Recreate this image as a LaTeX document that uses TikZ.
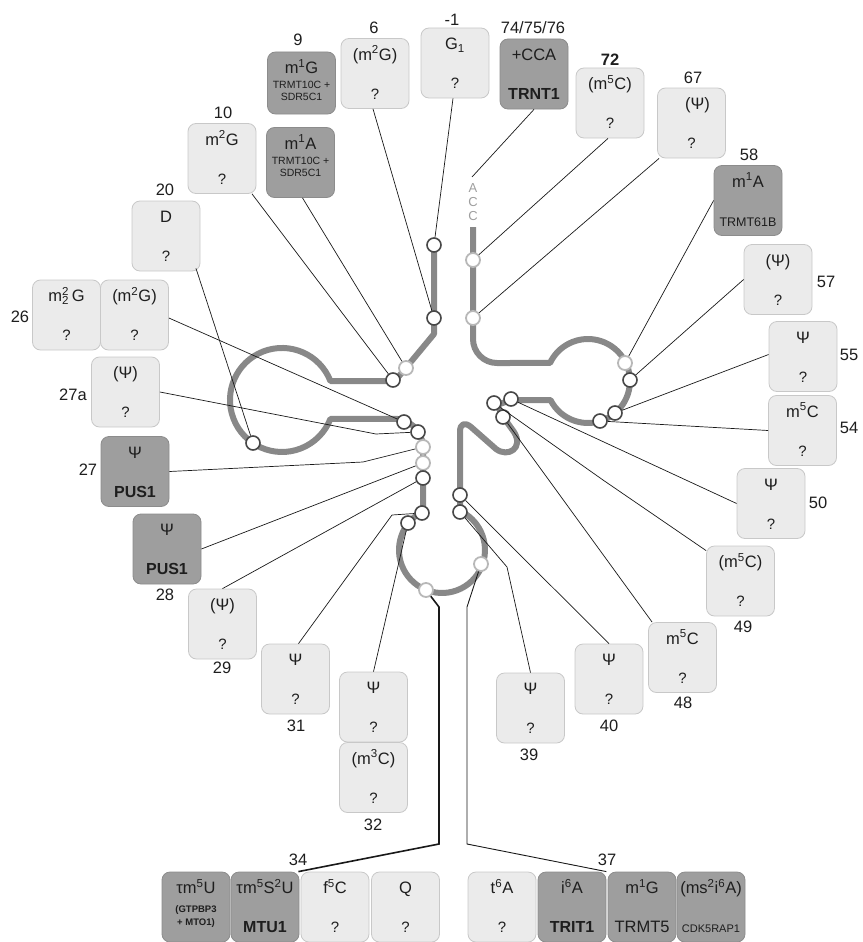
\documentclass[tikz,border=0pt]{standalone}
\usepackage{fontspec}
\setmainfont{Liberation Sans}
\definecolor{fillight}{HTML}{EBEBEB}
\definecolor{edgelight}{HTML}{C8C8C8}
\definecolor{filldark}{HTML}{9E9E9E}
\definecolor{edgedark}{HTML}{8C8C8C}
\definecolor{strandgray}{HTML}{888888}
\definecolor{inkgray}{HTML}{1E1E1E}

% one modification box: name, centre, box style, upper text, lower text style, lower text
\newcommand{\trnabox}[6]{%
  \node[#3] (#1) at (#2) {};
  \node[modname, anchor=base] (#1-top) at ([yshift=-22pt]#1.north) {#4};
  \node[#5, anchor=base] (#1-bot) at ([yshift=-61pt]#1.north) {#6};
}

\begin{document}
\begin{tikzpicture}[x=1pt,y=-1pt,
  every node/.style={inner sep=0pt, text=inkgray},
  lightbox/.style={draw=edgelight, fill=fillight, line width=0.8pt, rounded corners=8pt,
                   minimum width=68pt, minimum height=70pt},
  darkbox/.style={lightbox, draw=edgedark, fill=filldark},
  modname/.style={font=\fontsize{16.5}{18}\selectfont},
  qmark/.style={font=\fontsize{15}{17}\selectfont},
  enzbold/.style={font=\bfseries\fontsize{16}{18}\selectfont},
  enzplain/.style={font=\fontsize{16.5}{18}\selectfont},
  enzmid/.style={font=\fontsize{12.5}{14}\selectfont},
  enzsmall/.style={font=\fontsize{11}{12}\selectfont},
  enztwo/.style={font=\fontsize{10.5}{12}\selectfont, align=center, yshift=12pt},
  enzgtp/.style={font=\bfseries\fontsize{9.5}{13}\selectfont, align=center, yshift=7pt},
  numlab/.style={font=\fontsize{16.5}{18}\selectfont},
  strand/.style={draw=strandgray, line width=6pt, line join=round},
  link/.style={draw=black!90, line width=0.7pt},
  site/.style={circle, draw=black!72, fill=white, line width=1.6pt, minimum size=14pt},
  sitelight/.style={site, draw=black!28, line width=1.8pt},
  cca/.style={font=\fontsize{13}{13}\selectfont, text=black!38}]
\useasboundingbox (0,0) rectangle (862,942);

% ---------- the tRNA backbone ----------
\draw[strand] (434,240) -- (434,334) -- (395,381) -- (330.4,381)
  arc[start angle=-21.4, end angle=-338.6, radius=52]
  -- (404,419) -- (416,428) -- (423,442) -- (423,511.4)
  arc[start angle=243.8, end angle=-65.2, radius=43]
  -- (460,432) .. controls (460,423) and (465,422) .. (471,427)
  -- (496,449) .. controls (508,458) and (524,448) .. (514,432)
  -- (504,418) -- (497,405) -- (511,400) -- (550.5,400)
  arc[start angle=153.1, end angle=-154.6, radius=42]
  -- (497,363) arc[start angle=90, end angle=180, radius=24]
  -- (473,227);

% ---------- modified sites ----------
\node[site] (pm1) at (434,245) {};
\node[site] (p6) at (434,318) {};
\node[sitelight] (p9) at (406,368) {};
\node[site] (p10) at (393,380) {};
\node[site] (p20) at (253,443) {};
\node[site] (p26) at (404,422) {};
\node[site] (p27a) at (418,432) {};
\node[sitelight] (p27) at (423,447) {};
\node[sitelight] (p28) at (423,463) {};
\node[site] (p29) at (423,478) {};
\node[site] (p31) at (422,513) {};
\node[site] (p32) at (408,523) {};
\node[sitelight] (p34) at (426,590) {};
\node[sitelight] (p37) at (481,564) {};
\node[site] (p39) at (460,512) {};
\node[site] (p40) at (460,495) {};
\node[site] (p48) at (503,417) {};
\node[site] (p49) at (494,403) {};
\node[site] (p50) at (511,399) {};
\node[site] (p54) at (600,421) {};
\node[site] (p55) at (615,413) {};
\node[site] (p57) at (630,380) {};
\node[sitelight] (p58) at (625,363) {};
\node[sitelight] (p67) at (473,318) {};
\node[sitelight] (p72) at (473,260) {};

% 3' CCA end
\node[cca] (ccaA) at (473,188) {A};
\node[cca] (ccaC1) at (473,202) {C};
\node[cca] (ccaC2) at (473,216) {C};
\coordinate (ccaend) at (472,177);

% ---------- boxes ----------
\trnabox{bm1}{455,63}{lightbox}{G\textsubscript{1}}{qmark}{?}
\trnabox{b6}{375,73.5}{lightbox}{(m\textsuperscript{2}G)}{qmark}{?}
\trnabox{b9g}{301.5,83}{darkbox,minimum height=62pt}{m\textsuperscript{1}G}{enztwo}{TRMT10C +\\SDR5C1}
\trnabox{b9a}{300.5,162.5}{darkbox}{m\textsuperscript{1}A}{enztwo}{TRMT10C +\\SDR5C1}
\trnabox{b10}{222,158.5}{lightbox}{m\textsuperscript{2}G}{qmark}{?}
\trnabox{b74}{534,74}{darkbox}{+CCA}{enzbold}{TRNT1}
\trnabox{b72}{610,103}{lightbox}{(m\textsuperscript{5}C)}{qmark}{?}
\trnabox{b67}{691.5,123}{lightbox}{\hspace{12pt}(Ψ)}{qmark}{?}
\trnabox{b58}{748,200.5}{darkbox}{m\textsuperscript{1}A}{enzmid}{TRMT61B}
\trnabox{b57}{778,279.5}{lightbox}{(Ψ)}{qmark}{?}
\trnabox{b55}{803,356.5}{lightbox}{Ψ}{qmark}{?}
\trnabox{b54}{802.5,430.5}{lightbox}{m\textsuperscript{5}C}{qmark}{?}
\trnabox{b50}{771,503.5}{lightbox}{Ψ}{qmark}{?}
\trnabox{b49}{740.5,581}{lightbox}{(m\textsuperscript{5}C)}{qmark}{?}
\trnabox{b48}{682.5,657.5}{lightbox}{m\textsuperscript{5}C}{qmark}{?}
\trnabox{b40}{609,679}{lightbox}{Ψ}{qmark}{?}
\trnabox{b39}{530.5,708}{lightbox}{Ψ}{qmark}{?}
\trnabox{b32a}{373.5,707}{lightbox}{Ψ}{qmark}{?}
\trnabox{b32b}{373.5,777.5}{lightbox}{(m\textsuperscript{3}C)}{qmark}{?}
\trnabox{b31}{295.5,679}{lightbox}{Ψ}{qmark}{?}
\trnabox{b29}{222.5,624}{lightbox}{(Ψ)}{qmark}{?}
\trnabox{b28}{167,549}{darkbox}{Ψ}{enzbold}{PUS1}
\trnabox{b27}{135,471.5}{darkbox}{Ψ}{enzbold}{PUS1}
\trnabox{b27a}{125.5,392}{lightbox}{(Ψ)}{qmark}{?}
\trnabox{b26b}{134.5,315}{lightbox}{(m\textsuperscript{2}G)}{qmark}{?}
\trnabox{b26a}{66.5,315}{lightbox}{m\rlap{\textsuperscript{2}}\textsubscript{2}\,G}{qmark}{?}
\trnabox{b20}{166,236}{lightbox}{D}{qmark}{?}
% anticodon position 34
\trnabox{b34a}{196,907}{darkbox}{τm\textsuperscript{5}U}{enzgtp}{(GTPBP3\\+ MTO1)}
\trnabox{b34b}{265,907}{darkbox}{τm\textsuperscript{5}S\textsuperscript{2}U}{enzbold}{MTU1}
\trnabox{b34c}{335,907}{lightbox}{f\textsuperscript{5}C}{qmark}{?}
\trnabox{b34d}{405.5,907}{lightbox}{Q}{qmark}{?}
% position 37
\trnabox{b37a}{502,907}{lightbox}{t\textsuperscript{6}A}{qmark}{?}
\trnabox{b37b}{572,907}{darkbox}{i\textsuperscript{6}A}{enzbold}{TRIT1}
\trnabox{b37c}{642,907}{darkbox}{m\textsuperscript{1}G}{enzplain}{TRMT5}
\trnabox{b37d}{711,907}{darkbox}{(ms\textsuperscript{2}i\textsuperscript{6}A)}{enzsmall}{CDK5RAP1}

% ---------- position numbers ----------
\node[numlab] (nm1) at (452,20) {-1};
\node[numlab] (n6) at (374,28) {6};
\node[numlab] (n9) at (298,40) {9};
\node[numlab] (n10) at (223,113) {10};
\node[numlab] (n74) at (533,28) {74/75/76};
\node[numlab, font=\bfseries\fontsize{16.5}{18}\selectfont] (n72) at (610,60) {72};
\node[numlab] (n67) at (693,78) {67};
\node[numlab] (n58) at (749,155) {58};
\node[numlab] (n57) at (826,282) {57};
\node[numlab] (n55) at (849,355) {55};
\node[numlab] (n54) at (849,428) {54};
\node[numlab] (n50) at (818,503) {50};
\node[numlab] (n49) at (743,627) {49};
\node[numlab] (n48) at (683,703) {48};
\node[numlab] (n40) at (609,726) {40};
\node[numlab] (n39) at (529,755) {39};
\node[numlab] (n32) at (373,825) {32};
\node[numlab] (n31) at (296,726) {31};
\node[numlab] (n29) at (222,668) {29};
\node[numlab] (n28) at (165,595) {28};
\node[numlab] (n27) at (88,470) {27};
\node[numlab] (n27a) at (73,395) {27a};
\node[numlab] (n26) at (20,317) {26};
\node[numlab] (n20) at (165,190) {20};
\node[numlab] (n34) at (298,860) {34};
\node[numlab] (n37) at (607,860) {37};

% ---------- bends of the leader lines ----------
\coordinate (k27a) at (376,434);
\coordinate (k27) at (363,462);
\coordinate (k31) at (392,515);
\coordinate (k39) at (507,567);
\coordinate (k49) at (603,480);
\coordinate (k34a) at (439,607);
\coordinate (k34b) at (439,844);
\coordinate (k37a) at (467,607);
\coordinate (k37b) at (467,844);

% ---------- leader lines ----------
\draw[link] ([xshift=-2pt]bm1.south) -- (pm1);
\draw[link] ([xshift=-2pt]b6.south) -- (p6);
\draw[link] ([xshift=2pt]b9a.south) -- (p9);
\draw[link] ([xshift=30pt]b10.south) -- (p10);
\draw[link] ([xshift=30pt,yshift=3pt]b20.south) -- (p20);
\draw[link] ([yshift=-3pt]b26b.east) -- (p26);
\draw[link] (b27a.east) -- (k27a) -- (p27a);
\draw[link] (b27.east) -- (k27) -- (p27);
\draw[link] (b28.east) -- (p28);
\draw[link] (b29.north) -- (p29);
\draw[link] ([xshift=3pt]b31.north) -- (k31) -- (p31);
\draw[link] (b32a.north) -- (p32);
\draw[link, line width=1.6pt] (p34) -- (k34a) -- (k34b) -- ([xshift=-1pt]b34b.north east);
\draw[link, line width=0.9pt] (p37) -- (k37a) -- (k37b) -- (b37b.north east);
\draw[link] (b39.north) -- (k39) -- (p39);
\draw[link] (b40.north) -- (p40);
\draw[link] ([xshift=4pt]b48.north west) -- (p48);
\draw[link] ([yshift=-5pt]b49.north west) -- (k49) -- (p49);
\draw[link] (b50.west) -- (p50);
\draw[link] (b54.west) -- (p54);
\draw[link] ([yshift=2pt]b55.west) -- (p55);
\draw[link] (b57.west) -- (p57);
\draw[link] (b58.west) -- (p58);
\draw[link] ([xshift=2pt]b67.south west) -- (p67);
\draw[link] ([xshift=-2pt]b72.south) -- (p72);
\draw[link] (b74.south) -- (ccaend);
\end{tikzpicture}
\end{document}
